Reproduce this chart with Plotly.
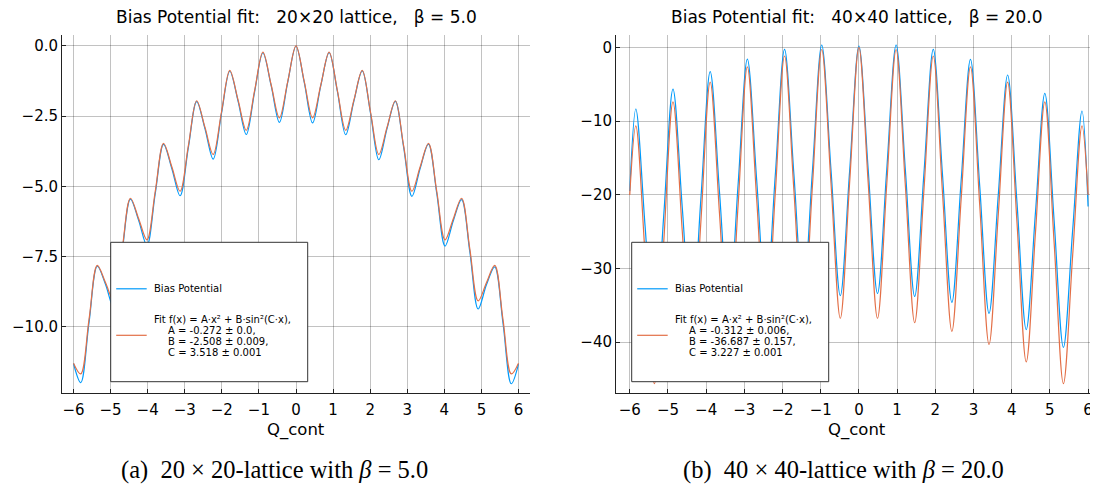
import plotly.graph_objects as go

# the page adds an 8px body margin, so the figure is 8px smaller and every
# pixel position below is taken from the reference and shifted by OFF
OFF = 8
W, H = 1098 - OFF, 486 - OFF

# ---- panel (a): 20x20 lattice, beta = 5.0 ----
q_a = [-6.000, -5.805, -5.581, -5.358, -5.135, -4.912, -4.688, -4.465, -4.242, -4.019,
       -3.795, -3.572, -3.349, -3.126, -2.902, -2.679, -2.456, -2.233, -2.009, -1.786,
       -1.563, -1.340, -1.116, -0.893, -0.670, -0.447, -0.223, 0.000, 0.223, 0.447,
       0.670, 0.893, 1.116, 1.340, 1.563, 1.786, 2.009, 2.233, 2.456, 2.679,
       2.902, 3.126, 3.349, 3.572, 3.795, 4.019, 4.242, 4.465, 4.688, 4.912,
       5.135, 5.358, 5.581, 5.805, 6.000]
bias_a = [-11.30, -11.98, -9.84, -7.84, -8.49, -9.33, -7.32, -5.45, -6.21, -7.10,
          -5.25, -3.50, -4.36, -5.33, -3.61, -1.98, -2.94, -4.03, -2.40, -0.90,
          -1.96, -3.15, -1.63, -0.25, -1.41, -2.72, -1.29, -0.01, -1.30, -2.74,
          -1.40, -0.24, -1.62, -3.16, -1.95, -0.89, -2.39, -4.05, -2.93, -1.97,
          -3.60, -5.35, -4.35, -3.49, -5.24, -7.12, -6.22, -5.47, -7.33, -9.36,
          -8.50, -7.86, -9.86, -12.02, -11.32]
fit_a = [-11.29, -11.67, -9.73, -7.81, -8.43, -9.07, -7.23, -5.42, -6.15, -6.90,
         -5.17, -3.47, -4.30, -5.17, -3.55, -1.95, -2.89, -3.86, -2.35, -0.87,
         -1.92, -3.00, -1.59, -0.22, -1.38, -2.56, -1.27, 0.00, -1.27, -2.56,
         -1.38, -0.22, -1.59, -3.00, -1.92, -0.87, -2.35, -3.86, -2.89, -1.95,
         -3.55, -5.17, -4.30, -3.47, -5.17, -6.90, -6.15, -5.42, -7.23, -9.07,
         -8.43, -7.81, -9.73, -11.67, -11.29]

# ---- panel (b): 40x40 lattice, beta = 20.0 ----
q_b = [-6.000, -5.841, -5.598, -5.354, -5.111, -4.868, -4.624, -4.381, -4.138, -3.894,
       -3.651, -3.407, -3.164, -2.921, -2.677, -2.434, -2.190, -1.947, -1.704, -1.460,
       -1.217, -0.974, -0.730, -0.487, -0.243, 0.000, 0.243, 0.487, 0.730, 0.974,
       1.217, 1.460, 1.704, 1.947, 2.190, 2.434, 2.677, 2.921, 3.164, 3.407,
       3.651, 3.894, 4.138, 4.381, 4.624, 4.868, 5.111, 5.354, 5.598, 5.841, 6.000]
bias_b = [-19.5, -8.37, -24.3, -40.2, -22.9, -5.66, -21.8, -37.9, -20.6, -3.31,
          -19.6, -35.9, -18.7, -1.59, -18.0, -34.5, -17.4, -0.27, -17.1, -33.9,
          -16.8, 0.31, -16.7, -33.7, -16.8, 0.18, -16.6, -33.4, -16.5, 0.31,
          -16.7, -33.8, -17.0, -0.27, -17.4, -34.6, -18.1, -1.63, -18.9, -36.1,
          -19.9, -3.76, -21.0, -38.3, -22.3, -6.24, -23.5, -40.7, -24.7, -8.64, -21.6]
fit_b = [-20.04, -10.65, -28.12, -45.63, -26.49, -7.39, -25.02, -42.68, -23.69, -4.73,
         -22.50, -40.31, -21.47, -2.66, -20.58, -38.54, -19.84, -1.18, -19.25, -37.35,
         -18.81, -0.30, -18.51, -36.76, -18.36, 0.00, -18.36, -36.76, -18.51, -0.30,
         -18.81, -37.35, -19.25, -1.18, -19.84, -38.54, -20.58, -2.66, -21.47, -40.31,
         -22.50, -4.73, -23.69, -42.68, -25.02, -7.39, -26.49, -45.63, -28.12, -10.65, -20.04]

x_ticks = [-6, -5, -4, -3, -2, -1, 0, 1, 2, 3, 4, 5, 6]
y_ticks_a = [0.0, -2.5, -5.0, -7.5, -10.0]
y_ticks_b = [0, -10, -20, -30, -40]

nb = "\u00a0"
titles = [f"Bias Potential fit:{nb*3}20×20 lattice,{nb*3}β = 5.0",
          f"Bias Potential fit:{nb*3}40×40 lattice,{nb*3}β = 20.0"]
captions = [f"(a){nb*2}20 × 20-lattice with <i>β</i> = 5.0",
            f"(b){nb*2}40 × 40-lattice with <i>β</i> = 20.0"]
fit_lines = [["A = -0.272 ± 0.0,", "B = -2.508 ± 0.009,", "C = 3.518 ± 0.001"],
             ["A = -0.312 ± 0.006,", "B = -36.687 ± 0.157,", "C = 3.227 ± 0.001"]]

BLUE = "#009AFA"
ORANGE = "#E36F47"
GRID = "rgba(0,0,0,0.24)"
FONT = "DejaVu Sans"


def px(x):
    return (x - OFF) / W


def py(y):
    return 1 - (y - OFF) / H


fig = go.Figure()
fig.add_trace(go.Scatter(x=q_a, y=bias_a, mode="lines", line=dict(color=BLUE, width=1.2, shape="spline"),
                         name="Bias Potential", xaxis="x", yaxis="y"))
fig.add_trace(go.Scatter(x=q_a, y=fit_a, mode="lines", line=dict(color=ORANGE, width=1.2, shape="spline"),
                         name="Fit", xaxis="x", yaxis="y"))
fig.add_trace(go.Scatter(x=q_b, y=bias_b, mode="lines", line=dict(color=BLUE, width=1.2, shape="spline"),
                         name="Bias Potential", xaxis="x2", yaxis="y2"))
fig.add_trace(go.Scatter(x=q_b, y=fit_b, mode="lines", line=dict(color=ORANGE, width=1.2, shape="spline"),
                         name="Fit", xaxis="x2", yaxis="y2"))

axis_common = dict(showgrid=True, gridcolor=GRID, gridwidth=1, zeroline=False,
                   showline=True, linecolor="#222", linewidth=1, ticks="inside",
                   ticklen=4, tickcolor="#222", tickfont=dict(family=FONT, size=15, color="#000"),
                   automargin=False)

# plot boxes in reference pixels: (left, top, right, bottom)
box_a = (62, 35, 530, 393)
box_b = (616, 35, 1098, 393)

fig.update_layout(
    width=W, height=H,
    margin=dict(l=0, r=0, t=0, b=0),
    paper_bgcolor="white", plot_bgcolor="white",
    showlegend=False,
    xaxis=dict(domain=[px(box_a[0]), px(box_a[2])], range=[-6.31, 6.31], anchor="y",
               tickvals=x_ticks, ticklabelstandoff=3, **axis_common),
    yaxis=dict(domain=[py(box_a[3]), py(box_a[1])], range=[-12.35, 0.39], anchor="x",
               tickvals=y_ticks_a, tickformat=".1f", **axis_common),
    xaxis2=dict(domain=[px(box_b[0]), px(box_b[2])], range=[-6.36, 6.26], anchor="y2",
                tickvals=x_ticks, ticklabelstandoff=3, **axis_common),
    yaxis2=dict(domain=[py(box_b[3]), py(box_b[1])], range=[-46.9, 1.67], anchor="x2",
                tickvals=y_ticks_b, **axis_common),
)

# titles, axis labels, captions
for i, box in enumerate([box_a, box_b]):
    cx = (box[0] + box[2]) / 2
    fig.add_annotation(x=px(cx), y=py(17), xref="paper", yref="paper", text=titles[i],
                       showarrow=False, xanchor="center", yanchor="middle",
                       font=dict(family=FONT, size=17, color="#000"))
    fig.add_annotation(x=px(cx), y=py(430), xref="paper", yref="paper", text="Q_cont",
                       showarrow=False, xanchor="center", yanchor="middle",
                       font=dict(family=FONT, size=16.5, color="#000"))

for cx, cap in zip([274, 843], captions):
    fig.add_annotation(x=px(cx), y=py(470), xref="paper", yref="paper", text=cap,
                       showarrow=False, xanchor="center", yanchor="middle",
                       font=dict(family="Liberation Serif", size=24.5, color="#000"))

# legend boxes drawn by hand
legend_x0 = [110.7, 631.7]
for i, x0 in enumerate(legend_x0):
    fig.add_shape(type="rect", xref="paper", yref="paper",
                  x0=px(x0), x1=px(x0 + 197), y0=py(381.7), y1=py(242.3),
                  line=dict(color="#333", width=1), fillcolor="white", layer="above")
    fig.add_shape(type="line", xref="paper", yref="paper",
                  x0=px(x0 + 5.5), x1=px(x0 + 36), y0=py(288.8), y1=py(288.8),
                  line=dict(color=BLUE, width=1.2))
    fig.add_shape(type="line", xref="paper", yref="paper",
                  x0=px(x0 + 5.5), x1=px(x0 + 36), y0=py(335.3), y1=py(335.3),
                  line=dict(color=ORANGE, width=1.2))
    fig.add_annotation(x=px(x0 + 41), y=py(288.8), xref="paper", yref="paper",
                       text="Bias Potential", showarrow=False, xanchor="left", yanchor="middle",
                       font=dict(family=FONT, size=10, color="#000"))
    fig.add_annotation(x=px(x0 + 41), y=py(319), xref="paper", yref="paper",
                       text="Fit f(x) = A⋅x² + B⋅sin²(C⋅x),", showarrow=False,
                       xanchor="left", yanchor="middle",
                       font=dict(family=FONT, size=10, color="#000"))
    for j, line in enumerate(fit_lines[i]):
        fig.add_annotation(x=px(x0 + 55.5), y=py(330.2 + 11.3 * j), xref="paper", yref="paper",
                           text=line, showarrow=False, xanchor="left", yanchor="middle",
                           font=dict(family=FONT, size=10, color="#000"))

fig.write_html("out.html")
